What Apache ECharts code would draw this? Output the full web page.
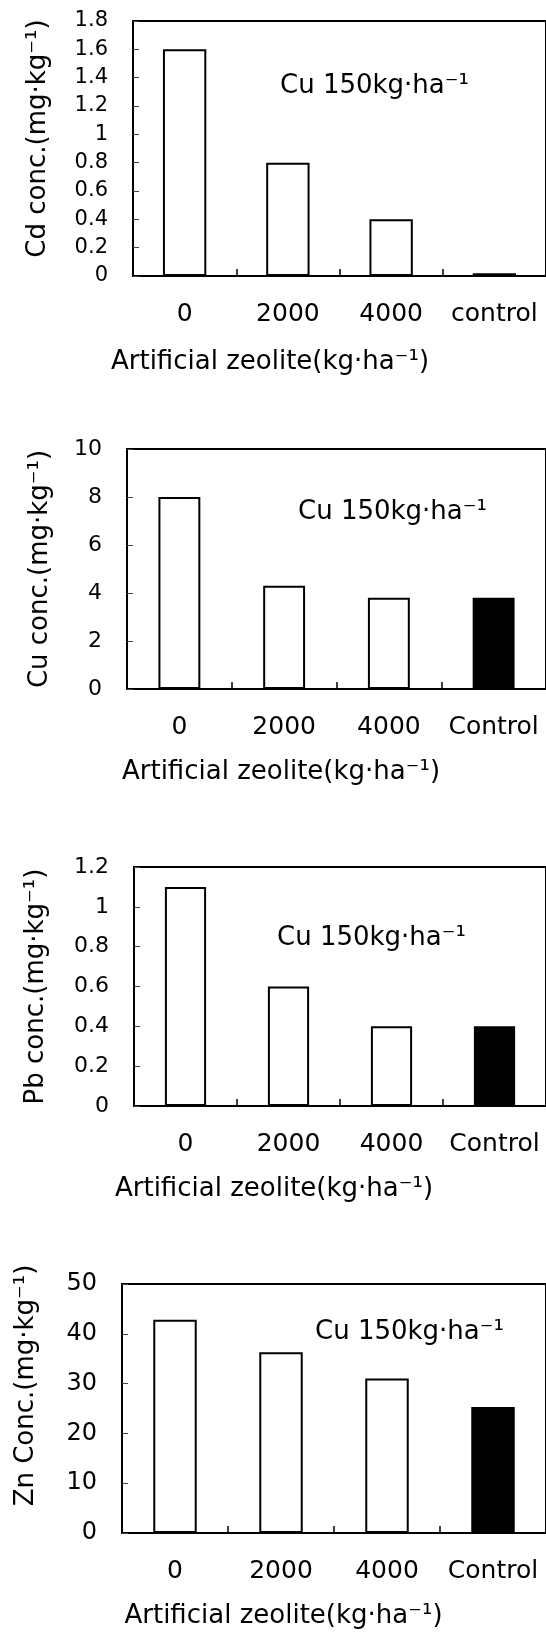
<!DOCTYPE html>
<html>
<head>
<meta charset="utf-8">
<script src="https://cdn.jsdelivr.net/npm/echarts@6/dist/echarts.min.js"></script>
<style>
  html, body { margin: 0; padding: 0; background: #fff; }
  #chart { width: 546px; height: 1633px; }
</style>
</head>
<body>
<div id="chart"></div>
<script>
// Treatments on the category axis
const cdCategories = ['0', '2000', '4000', 'control'];
const categories = ['0', '2000', '4000', 'Control'];

// Heavy-metal concentrations per treatment (mg·kg⁻¹)
const cdValues = [1.6, 0.8, 0.4, 0.02];
const cuValues = [8.0, 4.3, 3.8, 3.8];
const pbValues = [1.1, 0.6, 0.4, 0.4];
const znValues = [42.8, 36.3, 31.0, 25.3];

// Value-axis tick labels
const cdTicks = [0, 0.2, 0.4, 0.6, 0.8, 1, 1.2, 1.4, 1.6, 1.8];
const cuTicks = [0, 2, 4, 6, 8, 10];
const pbTicks = [0, 0.2, 0.4, 0.6, 0.8, 1, 1.2];
const znTicks = [0, 10, 20, 30, 40, 50];

// Axis titles and note
const yTitles = ['Cd conc.(mg·kg⁻¹)', 'Cu conc.(mg·kg⁻¹)', 'Pb conc.(mg·kg⁻¹)', 'Zn Conc.(mg·kg⁻¹)'];
const xTitle = 'Artificial zeolite(kg·ha⁻¹)';
const treatmentNote = 'Cu 150kg·ha⁻¹';

const FONT = 'DejaVu Sans';
const INK = '#000';

// Layout of the four stacked panels
const panels = [
  { cats: cdCategories, values: cdValues, ticks: cdTicks,
    grid: { left: 133, top: 21, width: 418, height: 255 },
    tickFont: 21, nameGap: 82, yShift: 20, xGap: 73, xShift: 139, barWidth: '42%', note: [280, 86] },
  { cats: categories, values: cuValues, ticks: cuTicks,
    grid: { left: 127, top: 449, width: 424, height: 240 },
    tickFont: 22, nameGap: 74, yShift: 0, xGap: 70, xShift: 111, barWidth: '40%', note: [298, 512] },
  { cats: categories, values: pbValues, ticks: pbTicks,
    grid: { left: 134, top: 867, width: 419, height: 239 },
    tickFont: 22, nameGap: 85, yShift: 0, xGap: 70, xShift: 132, barWidth: '40%', note: [277, 938] },
  { cats: categories, values: znValues, ticks: znTicks,
    grid: { left: 122, top: 1284, width: 433, height: 249 },
    tickFont: 24, nameGap: 83, yShift: 46, xGap: 70, xShift: 101, barWidth: '41%', note: [315, 1332] }
];

const chart = echarts.init(document.getElementById('chart'), null, { renderer: 'canvas' });

const option = {
  animation: false,
  backgroundColor: '#fff',
  textStyle: { fontFamily: FONT, color: INK },
  grid: panels.map(p => Object.assign({}, p.grid, {
    show: true, borderColor: INK, borderWidth: 2, backgroundColor: 'transparent'
  })),
  xAxis: panels.map((p, i) => ({
    type: 'category',
    gridIndex: i,
    data: p.cats,
    boundaryGap: true,
    axisLine: { show: true, lineStyle: { color: INK, width: 2 } },
    axisTick: { show: true, inside: true, length: 7, interval: 0, lineStyle: { color: INK, width: 1.5 } },
    axisLabel: { interval: 0, margin: 26, fontSize: 25, color: INK, fontFamily: FONT },
    name: xTitle,
    nameLocation: 'middle',
    nameGap: p.xGap,
    nameTextStyle: { fontSize: 26, color: INK, fontFamily: FONT, padding: [0, p.xShift, 0, 0] }
  })),
  yAxis: panels.map((p, i) => ({
    type: 'value',
    gridIndex: i,
    min: p.ticks[0],
    max: p.ticks[p.ticks.length - 1],
    interval: p.ticks[1] - p.ticks[0],
    axisLine: { show: true, lineStyle: { color: INK, width: 2 } },
    axisTick: { show: true, inside: true, length: 6, lineStyle: { color: '#444', width: 1 } },
    splitLine: { show: false },
    axisLabel: { margin: 25, fontSize: p.tickFont, color: INK, fontFamily: FONT },
    name: yTitles[i],
    nameLocation: 'middle',
    nameRotate: 90,
    nameGap: p.nameGap,
    nameTextStyle: { fontSize: 26, color: INK, fontFamily: FONT, padding: [0, 0, 0, p.yShift] }
  })),
  series: panels.map((p, i) => ({
    type: 'bar',
    xAxisIndex: i,
    yAxisIndex: i,
    barWidth: p.barWidth,
    itemStyle: { color: '#fff', borderColor: INK, borderWidth: 2 },
    // the untreated control is drawn as a solid bar
    data: p.values.map((v, k) => p.cats[k].toLowerCase() === 'control'
      ? { value: v, itemStyle: { color: INK } }
      : v)
  })),
  graphic: panels.map(p => ({
    type: 'text',
    x: p.note[0],
    y: p.note[1],
    silent: true,
    style: {
      text: treatmentNote,
      fontSize: 26,
      fontFamily: FONT,
      fill: INK,
      align: 'left',
      verticalAlign: 'middle'
    }
  }))
};

chart.setOption(option);
</script>
</body>
</html>
